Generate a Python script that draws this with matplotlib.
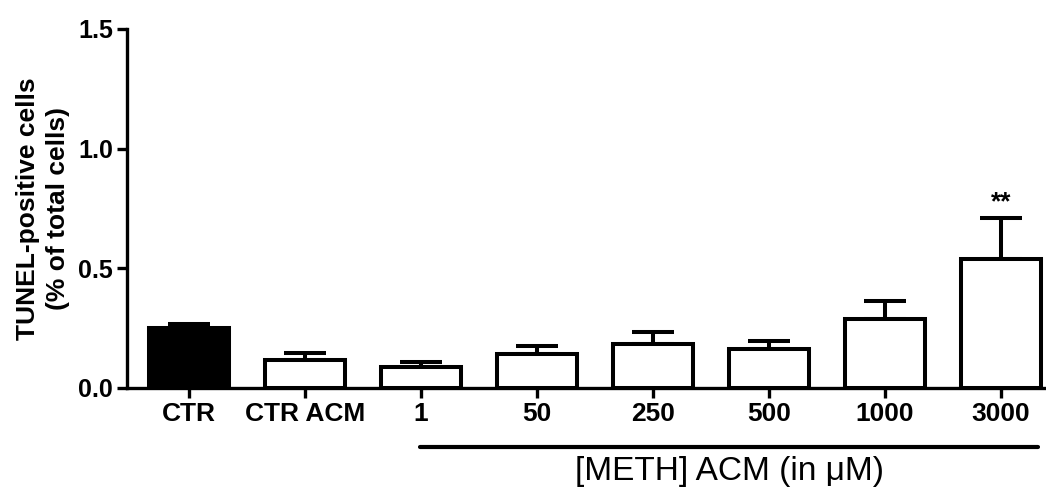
import matplotlib
matplotlib.use("Agg")
import matplotlib.pyplot as plt
import matplotlib.transforms as mtransforms
import numpy as np

categories = ["CTR", "CTR ACM", "1", "50", "250", "500", "1000", "3000"]
means = [0.25, 0.117, 0.088, 0.14, 0.183, 0.163, 0.29, 0.54]
sems = [0.017, 0.03, 0.02, 0.035, 0.05, 0.034, 0.072, 0.17]
fills = ["black", "white", "white", "white", "white", "white", "white", "white"]
signif = {"3000": "**"}

plt.rcParams["font.family"] = ["Liberation Sans", "DejaVu Sans"]

fig = plt.figure(figsize=(10.46, 4.94), dpi=100)
ax = fig.add_axes([0.1214, 0.2146, 0.8786, 0.7267])

x = np.arange(len(categories))
lw = 2.9
ax.bar(x, means, width=0.69, color=fills, edgecolor="black", linewidth=lw, zorder=3)
ax.errorbar(x, means, yerr=[np.zeros(len(sems)), sems], fmt="none", ecolor="black",
            elinewidth=lw, capsize=15, capthick=lw, zorder=2)

for i, cat in enumerate(categories):
    if cat in signif:
        ax.annotate(signif[cat], (x[i], means[i] + sems[i]), xytext=(0, 3),
                    textcoords="offset points", ha="center", va="bottom",
                    fontsize=19, fontweight="bold")

ax.set_xlim(-0.534, 7.39)
ax.set_ylim(0, 1.5)
ax.set_yticks([0.0, 0.5, 1.0, 1.5])
ax.set_yticklabels(["0.0", "0.5", "1.0", "1.5"])
ax.set_xticks(x)
ax.set_xticklabels(categories)
for lab in ax.get_xticklabels():
    lab.set_fontweight("bold")
    lab.set_fontsize(19)
for lab in ax.get_yticklabels():
    lab.set_fontweight("bold")
    lab.set_fontsize(18)

for side in ["top", "right"]:
    ax.spines[side].set_visible(False)
for side in ["left", "bottom"]:
    ax.spines[side].set_linewidth(2.4)
ax.tick_params(axis="both", width=2.4, length=7, direction="out", pad=3)

ax.set_ylabel("TUNEL-positive cells\n(% of total cells)", fontsize=19,
              fontweight="bold", labelpad=6, linespacing=1.3)

# bracket line under the METH doses
trans = mtransforms.blended_transform_factory(ax.transData, ax.transAxes)
ax.plot([1.99, 7.32], [-0.164, -0.164], color="black", linewidth=3,
        solid_capstyle="round", transform=trans, clip_on=False)
ax.text(4.66, -0.234, "[METH] ACM (in \u03bcM)", fontsize=24, ha="center",
        va="center", transform=trans)

fig.savefig("out.png", dpi=100)
